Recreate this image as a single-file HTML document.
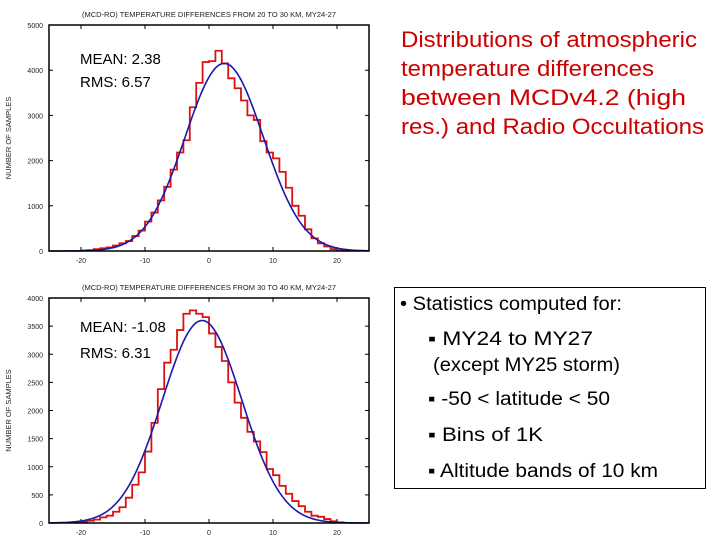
<!DOCTYPE html>
<html><head><meta charset="utf-8"><style>
html,body{margin:0;padding:0;background:#fff;}
svg{display:block;font-family:"Liberation Sans",sans-serif;}
</style></head><body>
<svg id="root" width="720" height="540">
<g id="c1"></g>
<g id="c2"></g>
<g fill="#cc0000" font-size="22">
<text x="401" y="47" textLength="296" lengthAdjust="spacingAndGlyphs">Distributions of atmospheric</text>
<text x="401" y="76" textLength="253" lengthAdjust="spacingAndGlyphs">temperature differences</text>
<text x="401" y="105" textLength="285" lengthAdjust="spacingAndGlyphs">between MCDv4.2 (high</text>
<text x="401" y="134" textLength="303" lengthAdjust="spacingAndGlyphs">res.) and Radio Occultations</text>
</g>
<g font-size="19" fill="#000">
<rect x="394.5" y="287.5" width="311" height="201" fill="#fff" stroke="#000" stroke-width="1"/>
<text x="400" y="310" textLength="222" lengthAdjust="spacingAndGlyphs">• Statistics computed for:</text>
<text x="428" y="345" textLength="165" lengthAdjust="spacingAndGlyphs">▪ MY24 to MY27</text>
<text x="433" y="371" textLength="187" lengthAdjust="spacingAndGlyphs">(except MY25 storm)</text>
<text x="428" y="405" textLength="182" lengthAdjust="spacingAndGlyphs">▪ -50 &lt; latitude &lt; 50</text>
<text x="428" y="441" textLength="115" lengthAdjust="spacingAndGlyphs">▪ Bins of 1K</text>
<text x="428" y="477" textLength="230" lengthAdjust="spacingAndGlyphs">▪ Altitude bands of 10 km</text>
</g>
</svg>
<script>
// Top chart data (bin left edges in K, counts)
const binStarts1 = [-20,-19,-18,-17,-16,-15,-14,-13,-12,-11,-10,-9,-8,-7,-6,-5,-4,-3,-2,-1,0,1,2,3,4,5,6,7,8,9,10,11,12,13,14,15,16,17,18,19,20,21];
const counts1 = [10,20,40,60,80,120,170,220,330,450,650,850,1120,1420,1800,2180,2450,3180,3720,4180,4200,4430,4150,3820,3600,3330,3000,2900,2430,2180,2050,1750,1400,1000,780,480,280,170,100,40,20,5];
const yTicks1 = [0,1000,2000,3000,4000,5000];
const fitParams1 = [2.38, 6.12, 4150]; // mean, sigma, amplitude
// Bottom chart data
const binStarts2 = [-21,-20,-19,-18,-17,-16,-15,-14,-13,-12,-11,-10,-9,-8,-7,-6,-5,-4,-3,-2,-1,0,1,2,3,4,5,6,7,8,9,10,11,12,13,14,15,16,17,18,19,20];
const counts2 = [10,20,40,60,100,130,200,280,450,680,900,1270,1780,2380,2850,3080,3430,3720,3780,3720,3660,3370,3130,2880,2500,2140,1870,1620,1450,1260,960,850,660,520,390,300,200,130,110,70,30,10];
const yTicks2 = [0,500,1000,1500,2000,2500,3000,3500,4000];
const fitParams2 = [-1.08, 6.22, 3600];
const xTicks = [-20,-10,0,10,20];

const NS="http://www.w3.org/2000/svg";
function mk(parent,tag,attrs){const e=document.createElementNS(NS,tag);for(const k in attrs)e.setAttribute(k,attrs[k]);parent.appendChild(e);return e;}

function chart(g,cfg){
  const L=49,R=369,T=cfg.top,B=cfg.bottom;
  const xs=v=>L+(v+25)/50*(R-L);
  const ys=v=>B-v/cfg.ymax*(B-T);
  let t=mk(g,'text',{x:209,y:T-8,'font-size':'7.5','text-anchor':'middle',fill:'#222'});
  t.textContent=cfg.title;
  
  
  t=mk(g,'text',{x:11,y:(T+B)/2,'font-size':'7.5','text-anchor':'middle',fill:'#222',transform:`rotate(-90 11 ${(T+B)/2})`});
  t.textContent='NUMBER OF SAMPLES';
  
  
  cfg.yt.forEach(v=>{
    const y=ys(v);
    const tl=mk(g,'text',{x:43,y:y+3,'font-size':'7','text-anchor':'end',fill:'#222'});
    tl.textContent=v;
    
    
    const tk=mk(g,'path',{d:`M${L} ${y}h4M${R} ${y}h-4`,stroke:'#000','stroke-width':1});
    
    
  });
  xTicks.forEach(v=>{
    const x=xs(v);
    const tl=mk(g,'text',{x:x,y:B+12,'font-size':'7','text-anchor':'middle',fill:'#222'});
    tl.textContent=v;
    
    
    const tk=mk(g,'path',{d:`M${x} ${B}v-4M${x} ${T}v4`,stroke:'#000','stroke-width':1});
    
    
  });
  let d=`M${xs(cfg.bins[0])} ${ys(0)}`;
  cfg.bins.forEach((b,i)=>{d+=`L${xs(b)} ${ys(cfg.counts[i])}L${xs(b+1)} ${ys(cfg.counts[i])}`;});
  d+=`L${xs(cfg.bins[cfg.bins.length-1]+1)} ${ys(0)}`;
  const h=mk(g,'path',{d:d,fill:'none',stroke:'#dd1111','stroke-width':1.8});
  
  
  const [m,s,a]=cfg.fit;let gd='';
  for(let x=-25;x<=25.001;x+=0.25){const v=a*Math.exp(-((x-m)**2)/(2*s*s));gd+=(gd?'L':'M')+xs(x).toFixed(1)+' '+ys(v).toFixed(1);}
  const gl=mk(g,'path',{d:gd,fill:'none',stroke:'#1a1aaa','stroke-width':1.6});
  
  
  const fr=mk(g,'rect',{x:L,y:T,width:R-L,height:B-T,fill:'none',stroke:'#000','stroke-width':1.5});
  
  
  t=mk(g,'text',{x:80,y:cfg.top+cfg.meanOff,'font-size':'15',fill:'#000'});t.textContent=cfg.mean;
  
  
  t=mk(g,'text',{x:80,y:cfg.top+cfg.rmsOff,'font-size':'15',fill:'#000'});t.textContent=cfg.rms;
  
  
}
chart(document.getElementById('c1'),{top:25,bottom:251,ymax:5000,yt:yTicks1,bins:binStarts1,counts:counts1,fit:fitParams1,title:'(MCD-RO) TEMPERATURE DIFFERENCES FROM 20 TO 30 KM, MY24-27',mean:'MEAN: 2.38',rms:'RMS: 6.57',meanOff:39,rmsOff:62});
chart(document.getElementById('c2'),{top:298,bottom:523,ymax:4000,yt:yTicks2,bins:binStarts2,counts:counts2,fit:fitParams2,title:'(MCD-RO) TEMPERATURE DIFFERENCES FROM 30 TO 40 KM, MY24-27',mean:'MEAN: -1.08',rms:'RMS: 6.31',meanOff:34,rmsOff:60});
</script>
</body></html>
